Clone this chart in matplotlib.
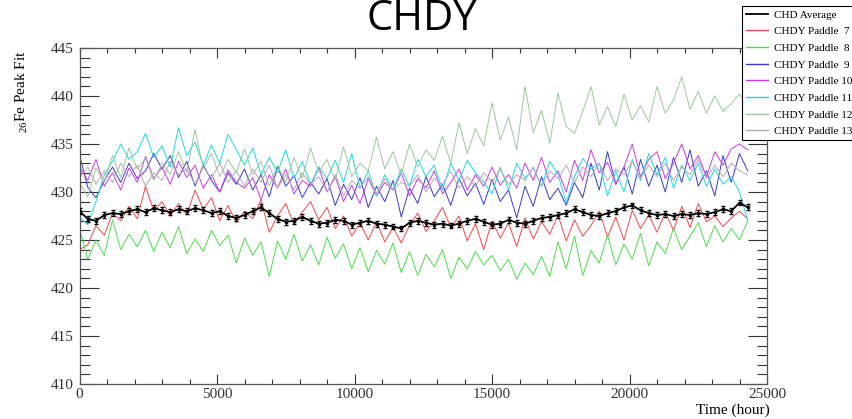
import numpy as np
import matplotlib
matplotlib.use("Agg")
import matplotlib.pyplot as plt
from matplotlib.lines import Line2D
from matplotlib.ticker import MultipleLocator

plt.rcParams['font.family'] = ['Liberation Serif', 'DejaVu Serif']
plt.rcParams['mathtext.fontset'] = 'custom'
plt.rcParams['mathtext.rm'] = 'Liberation Serif'

# ---------------- data ----------------
time_hours = np.arange(0, 24600, 300)  # 82 samples

chd_average = [
    428.0, 427.2, 427.0, 427.6, 427.8, 427.7, 428.0, 428.2, 427.9, 428.3,
    428.1, 427.9, 428.2, 428.0, 428.3, 428.1, 427.8, 428.0, 427.5, 427.3,
    427.6, 428.0, 428.4, 427.8, 427.2, 426.9, 427.0, 427.4, 427.0, 426.7,
    426.8, 427.1, 427.0, 426.6, 426.8, 427.0, 426.7, 426.6, 426.4, 426.2,
    426.8, 427.0, 426.8, 426.6, 426.7, 426.5, 426.7, 427.0, 427.2, 426.9,
    426.6, 426.7, 427.1, 426.8, 426.7, 427.0, 427.3, 427.4, 427.6, 427.8,
    428.2, 427.9, 427.6, 427.5, 427.8, 428.0, 428.4, 428.6, 428.1, 427.8,
    427.6, 427.7, 427.5, 427.7, 427.6, 427.8, 427.7, 427.9, 428.2, 428.0,
    428.9, 428.4]
chd_average_err = 0.3

paddle_7 = [
    424.0, 424.5, 426.5, 425.5, 427.8, 427.0, 428.5, 427.2, 430.6, 428.0,
    429.0, 427.5, 428.8, 427.6, 430.2, 428.2, 429.4, 427.0, 428.6, 426.8,
    428.0, 427.2, 429.2, 425.8, 427.5, 428.8, 426.6, 427.9, 429.0, 427.1,
    428.4, 426.2, 427.5, 425.4, 426.8, 425.0, 426.9, 424.8, 426.3, 424.7,
    426.5, 427.8, 425.9, 427.0, 428.4, 426.3, 427.5, 424.9, 426.7, 424.0,
    427.0, 425.2, 426.8, 424.3, 427.3, 425.1, 426.9, 425.6, 427.6, 424.9,
    427.1, 425.4, 426.5, 428.0, 425.3, 427.4, 425.0, 428.1, 426.2, 427.6,
    425.8, 427.9, 426.0, 428.5, 426.3, 428.8, 426.9, 427.5, 426.4, 427.3,
    428.0, 427.2]

paddle_8 = [
    426.2, 423.0, 425.0, 423.4, 427.1, 424.0, 425.6, 424.3, 426.0, 423.8,
    425.8, 424.2, 426.4, 423.6, 425.1, 423.8, 426.0, 424.4, 425.5, 422.6,
    425.2, 423.4, 424.8, 421.2, 424.9, 423.0, 425.6, 422.8, 424.5, 422.4,
    425.3, 423.1, 424.6, 422.0, 424.2, 421.7, 423.9, 422.5, 424.7, 421.6,
    423.8, 421.3, 423.5, 422.2, 424.0, 421.0, 423.2, 422.0, 423.8, 422.4,
    423.4, 421.8, 423.0, 420.9, 422.6, 421.4, 423.3, 421.2, 424.8, 422.0,
    425.4, 421.3, 423.9, 422.6, 425.5, 422.4, 424.6, 423.0, 425.7, 422.3,
    424.8, 423.6, 426.2, 424.0, 425.4, 426.8, 424.3, 426.5, 424.8, 426.2,
    425.0, 427.0]

paddle_9 = [
    433.8, 430.5, 429.4, 431.2, 432.6, 431.0, 433.0, 431.4, 432.2, 434.0,
    432.4, 433.8, 431.5, 433.2, 430.6, 432.8, 431.2, 430.0, 432.0, 430.8,
    432.4, 430.2, 431.8, 429.5, 432.6, 430.6, 431.7, 429.4, 431.0, 429.8,
    431.4, 428.6, 430.8, 429.2, 431.5, 428.4, 430.6, 429.0, 431.2, 427.4,
    430.4, 428.8, 431.6, 429.5, 430.8, 428.6, 431.4, 429.6, 430.9, 428.7,
    431.3, 429.0, 430.2, 427.3, 430.6, 428.5, 431.6, 429.2, 430.4, 428.6,
    431.0, 429.4, 433.0, 430.2, 434.2, 430.8, 432.6, 429.8, 433.4, 430.6,
    432.8, 430.0, 433.6, 431.0, 434.4, 430.6, 432.2, 429.6, 433.8, 431.0,
    434.0, 432.2]

paddle_10 = [
    432.6, 431.2, 433.4, 430.6, 432.0, 430.2, 432.5, 431.0, 433.7, 431.4,
    432.6, 430.8, 433.2, 431.5, 432.8, 430.4, 431.8, 430.0, 432.3, 431.0,
    430.4, 431.5, 429.2, 431.8, 430.4, 432.4, 429.8, 431.2, 430.6, 432.6,
    430.0, 431.6, 429.0, 430.7, 428.8, 431.4, 429.6, 431.0, 430.2, 432.0,
    429.6, 431.4, 430.4, 432.2, 429.8, 431.0, 432.4, 430.2, 431.8, 430.6,
    432.6, 430.7, 431.8, 430.4, 433.0, 431.2, 433.6, 431.0, 432.2, 430.0,
    433.3, 431.2, 434.4, 432.0, 433.1, 430.8, 432.6, 435.0, 431.6, 433.4,
    434.2, 431.4, 433.0, 435.0, 432.4, 433.8, 431.6, 434.2, 432.8, 434.5,
    435.0, 434.4]

paddle_11 = [
    427.4, 426.6, 429.0, 431.8, 433.2, 435.0, 433.4, 434.2, 436.1, 433.6,
    434.8, 432.6, 436.7, 433.8, 435.2, 432.8, 434.9, 433.0, 436.0, 434.4,
    432.8, 434.6, 431.8, 433.6, 432.0, 434.4, 431.4, 433.2, 430.8, 432.6,
    431.4, 433.3, 431.0, 434.0, 430.4, 432.2, 429.6, 431.8, 430.2, 432.4,
    430.6, 433.4, 431.6, 432.8, 430.2, 433.0, 431.2, 433.3, 432.0, 431.0,
    429.8, 432.6, 430.2, 433.0, 431.4, 432.5, 430.6, 433.2, 431.8, 428.9,
    431.6, 433.5, 432.4, 433.0, 429.6, 432.2, 430.0, 433.4, 431.2, 434.0,
    431.8, 433.6, 430.4, 432.8, 431.2, 433.0, 430.6, 432.4, 430.8, 431.6,
    430.0, 427.0]

paddle_12 = [
    431.0, 429.5, 432.5, 431.0, 433.8, 431.5, 434.6, 432.4, 433.5, 431.2,
    433.0, 431.8, 434.2, 432.0, 436.5, 432.5, 434.0, 431.6, 433.4, 432.0,
    434.5, 431.8, 433.2, 430.6, 432.8, 431.0, 433.6, 431.4, 434.6, 432.0,
    433.4, 431.2, 434.7, 431.6, 433.0, 432.2, 435.7, 432.4, 434.2, 431.8,
    435.0, 432.6, 434.4, 433.3, 435.8, 433.0, 437.2, 434.0, 436.6, 434.8,
    439.3, 435.4, 437.8, 434.4, 441.0, 436.2, 438.5, 435.1, 440.3, 436.8,
    436.1, 438.4, 441.0, 437.0, 438.9, 436.8, 440.2, 437.5, 439.0, 437.3,
    441.0, 438.2, 439.6, 442.0, 438.6, 440.5, 438.2, 440.0, 438.4, 439.2,
    440.2, 439.0]

paddle_13 = [
    431.5, 432.6, 430.8, 432.2, 431.0, 433.0, 431.6, 432.8, 430.6, 432.0,
    431.2, 433.2, 431.8, 432.4, 430.8, 432.6, 431.4, 433.0, 431.0, 432.2,
    430.6, 432.4, 431.0, 432.8, 430.4, 431.8, 430.2, 432.0, 430.8, 431.6,
    430.0, 431.8, 429.6, 431.2, 430.4, 431.6, 429.8, 431.4, 430.2, 431.0,
    430.6, 431.8, 430.0, 431.4, 430.8, 432.2, 430.4, 431.6, 430.6, 432.0,
    431.0, 432.4, 430.8, 431.8, 431.2, 432.6, 430.6, 432.2, 431.4, 432.8,
    431.0, 432.6, 431.6, 433.0, 431.2, 432.4, 431.8, 433.2, 431.4, 432.8,
    431.6, 433.0, 431.2, 432.6, 431.8, 433.4, 431.4, 432.8, 431.6, 433.0,
    432.2, 431.8]

paddle_series = [
    ("CHDY Paddle  7", paddle_7, "#f04848"),
    ("CHDY Paddle  8", paddle_8, "#4cdc4c"),
    ("CHDY Paddle  9", paddle_9, "#3a3ad0"),
    ("CHDY Paddle 10", paddle_10, "#c83ce6"),
    ("CHDY Paddle 11", paddle_11, "#20d8e0"),
    ("CHDY Paddle 12", paddle_12, "#9cc89c"),
    ("CHDY Paddle 13", paddle_13, "#b8a8b8"),
]

# ---------------- figure ----------------
W, H = 852, 419
fig = plt.figure(figsize=(W / 100, H / 100), dpi=100)
ax = fig.add_axes([79.5 / W, 1 - 384 / H, (767 - 79.5) / W, (384 - 48) / H])

handles = []
for label, vals, col in paddle_series:
    ln, = ax.plot(time_hours, vals, color=col, lw=0.7)
    handles.append(Line2D([], [], color=col, lw=1.0))

ax.errorbar(time_hours, chd_average, yerr=chd_average_err, fmt='-', color='black',
            lw=1.3, marker='s', ms=1.6, elinewidth=0.7, capsize=1.2, zorder=10)
avg_handle = Line2D([], [], color='black', lw=1.3)

ax.set_xlim(0, 25000)
ax.set_ylim(410, 445)
ax.xaxis.set_major_locator(MultipleLocator(5000))
ax.xaxis.set_minor_locator(MultipleLocator(1000))
ax.yaxis.set_major_locator(MultipleLocator(5))
ax.yaxis.set_minor_locator(MultipleLocator(1))
ax.tick_params(axis='both', which='both', direction='in', top=True, right=True,
               labelsize=11, colors='#333333', width=0.8)
ax.tick_params(axis='y', which='major', length=14, pad=4)
ax.tick_params(axis='y', which='minor', length=7)
ax.tick_params(axis='x', which='major', length=7, pad=3)
ax.tick_params(axis='x', which='minor', length=3.5)
for sp in ax.spines.values():
    sp.set_color('#555555')
    sp.set_linewidth(0.9)

fig.text(422 / W, 1 - 30 / H, "CHDY", ha='center', va='baseline',
         fontsize=30, family='Open Sans', color='black')
fig.text(22 / W, 1 - 92 / H, r"$\mathregular{_{26}}$Fe Peak Fit", rotation=90,
         ha='center', va='center', fontsize=11)
fig.text(770 / W, 1 - 410 / H, "Time (hour)", ha='right', va='center', fontsize=11)

leg = fig.legend([avg_handle] + handles,
                 ["CHD Average"] + [p[0] for p in paddle_series],
                 loc='upper left', bbox_to_anchor=(742 / W, 1 - 6 / H),
                 bbox_transform=fig.transFigure, fontsize=8, frameon=True,
                 fancybox=False, edgecolor='black', framealpha=1,
                 borderpad=0.35, labelspacing=0.62, handlelength=2.0,
                 handletextpad=0.5, borderaxespad=0)
leg.get_frame().set_linewidth(0.8)

fig.savefig("out.png", dpi=100)
